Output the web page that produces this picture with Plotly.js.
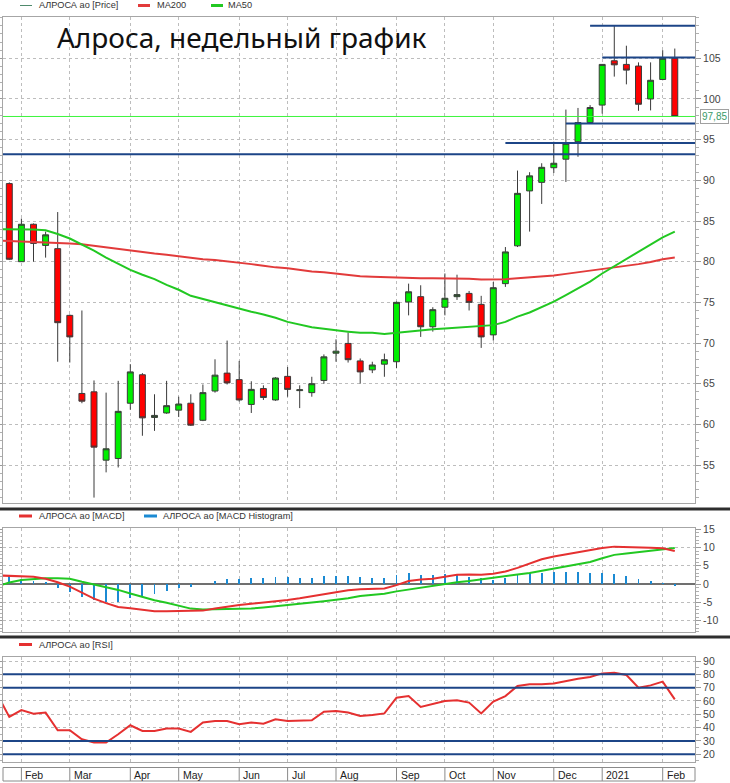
<!DOCTYPE html>
<html><head><meta charset="utf-8">
<script src="https://cdn.plot.ly/plotly-3.0.1.min.js"></script>
<style>html,body{margin:0;padding:0;background:#fff;}#chart{width:730px;height:783px;}</style>
</head><body><div id="chart"></div>
<script>
// Weekly bars (dated by week start, Sunday); first entry is the week before the first visible candle
const weeks = ['2020-01-19','2020-01-26','2020-02-02','2020-02-09','2020-02-16','2020-02-23','2020-03-01','2020-03-08','2020-03-15','2020-03-22','2020-03-29','2020-04-05','2020-04-12','2020-04-19','2020-04-26','2020-05-03','2020-05-10','2020-05-17','2020-05-24','2020-05-31','2020-06-07','2020-06-14','2020-06-21','2020-06-28','2020-07-05','2020-07-12','2020-07-19','2020-07-26','2020-08-02','2020-08-09','2020-08-16','2020-08-23','2020-08-30','2020-09-06','2020-09-13','2020-09-20','2020-09-27','2020-10-04','2020-10-11','2020-10-18','2020-10-25','2020-11-01','2020-11-08','2020-11-15','2020-11-22','2020-11-29','2020-12-06','2020-12-13','2020-12-20','2020-12-27','2021-01-03','2021-01-10','2021-01-17','2021-01-24','2021-01-31','2021-02-07','2021-02-14'];

// Candles (weeks[1] .. weeks[56])
const openP  = [89.6,80.0,84.6,82.0,81.6,73.4,63.8,64.0,55.6,55.8,62.6,66.1,60.85,61.4,61.75,62.6,60.5,64.1,66.3,65.5,62.45,64.4,63.0,65.9,64.15,63.9,65.4,68.75,69.95,67.8,66.7,67.4,67.7,75.05,75.7,72.0,74.4,75.7,76.1,74.75,71.0,77.3,81.95,88.7,89.75,91.55,92.6,94.75,97.1,99.25,104.7,104.25,104.05,100.0,102.4,105.0];
const highP  = [89.75,85.3,84.7,83.7,86.1,73.5,74.0,65.4,63.9,65.35,67.4,66.3,63.7,65.35,63.4,63.7,64.9,68.0,70.3,67.8,65.3,64.8,65.8,67.05,64.8,65.85,68.6,70.45,71.3,68.1,67.7,68.7,75.1,77.3,77.1,74.4,78.55,78.4,76.4,75.8,77.5,81.8,91.2,91.0,92.1,94.75,98.7,98.9,99.25,104.3,109.0,106.55,104.5,104.5,106.0,106.2];
const lowP   = [80.2,80.0,80.0,80.5,67.7,67.6,62.6,51.0,54.1,54.7,61.8,58.6,59.2,61.3,60.9,59.8,60.4,63.9,64.9,62.8,61.4,63.0,62.9,63.4,62.0,63.4,65.0,67.7,67.6,65.0,66.3,65.85,66.9,73.4,70.75,71.4,73.4,75.3,74.0,69.4,70.3,76.9,81.8,83.7,87.1,90.9,89.8,92.9,97.0,98.2,102.75,101.8,98.55,98.6,102.3,97.8];
const closeP = [80.3,84.6,82.25,83.3,72.5,70.75,62.85,57.2,57.0,61.6,66.45,60.8,61.1,62.3,62.5,59.9,63.9,66.05,65.1,63.0,64.3,63.3,65.7,64.3,64.25,65.0,68.3,69.0,67.95,66.45,67.3,67.95,75.0,76.3,72.0,74.1,75.5,75.95,75.0,70.75,76.8,81.2,88.4,90.55,91.6,92.1,94.55,97.1,98.95,104.25,104.2,103.55,99.35,102.3,105.0,97.85];

// Indicators (weeks[0] .. weeks[56])
const ma200 = [82.6,82.55,82.5,82.45,82.4,82.35,82.25,82.15,81.95,81.8,81.6,81.4,81.2,81.0,80.85,80.65,80.5,80.3,80.2,80.05,79.85,79.7,79.5,79.3,79.2,79.0,78.8,78.7,78.55,78.35,78.2,78.15,78.1,78.05,77.95,77.95,77.95,77.95,77.9,77.9,77.8,77.8,77.85,77.95,78.05,78.15,78.3,78.5,78.7,78.9,79.1,79.3,79.45,79.7,79.95,80.3,80.5];
const ma50 = [84.0,84.0,84.0,83.95,83.85,83.4,82.85,82.15,81.35,80.5,79.7,79.0,78.4,77.85,77.15,76.55,75.8,75.4,75.05,74.6,74.25,73.85,73.5,73.1,72.6,72.3,71.95,71.75,71.55,71.4,71.25,71.25,71.1,71.25,71.45,71.55,71.7,71.8,71.9,72.0,72.1,72.2,72.6,73.25,73.75,74.4,75.1,75.9,76.7,77.55,78.55,79.45,80.4,81.25,82.1,83.0,83.7];
const macd = [2.35,2.25,2.1,2.0,1.45,0.5,-0.7,-2.3,-4.0,-5.2,-6.25,-6.6,-7.0,-7.4,-7.4,-7.4,-7.4,-7.25,-6.7,-6.1,-5.7,-5.4,-5.1,-4.8,-4.35,-3.9,-3.4,-2.8,-2.2,-1.7,-1.45,-1.35,-1.2,-0.3,0.8,1.25,1.45,2.0,2.5,2.6,2.55,2.8,3.4,4.4,5.6,6.75,7.5,8.1,8.7,9.3,9.85,10.2,10.15,10.0,9.9,9.75,9.0];
const macdSignal = [-0.65,0.4,1.1,1.35,1.55,1.55,1.45,0.6,-0.1,-0.9,-1.6,-2.6,-3.55,-4.4,-5.1,-5.9,-6.7,-6.95,-6.9,-6.85,-6.8,-6.7,-6.4,-6.1,-5.75,-5.4,-5.05,-4.7,-4.3,-3.9,-3.25,-2.9,-2.65,-2.0,-1.5,-0.95,-0.35,0,0.5,0.8,1.3,1.8,2.2,2.6,3.0,3.6,4.2,4.75,5.4,6.0,7.05,7.95,8.3,8.7,9.2,9.55,9.8];
const macdHist = [2.4,2.3,1.5,0.8,0.45,-1.2,-2.1,-3.5,-4.4,-5.0,-4.85,-3.9,-3.5,-2.85,-1.9,-1.2,-0.7,-0.1,0.8,1.4,1.4,1.55,1.55,1.8,1.8,1.55,1.55,2.2,2.3,2.3,2.0,1.75,1.75,2.5,2.9,2.5,2.5,2.65,2.5,2.0,1.55,1.1,1.75,2.5,2.9,3.1,3.4,3.4,3.4,3.1,2.9,2.75,2.2,1.4,0.8,0.35,-0.45];
const rsi = [65,48.0,53.2,50.5,51.3,38.0,38.0,31.3,28.8,28.8,35.0,41.8,37.5,37.5,39.3,39.3,36.8,43.8,45.0,45.0,42.5,43.8,43.0,46.3,45.0,45.0,45.5,52.0,52.5,51.3,48.7,49.5,50.7,62.5,63.7,55.5,58.0,60.0,60.5,58.8,50.7,59.5,63.7,71.2,72.5,72.5,73.2,75.0,76.7,78.0,80.7,81.2,79.5,70.0,71.7,74.5,61.2];

// Drawn support/resistance levels (null start = full width)
const levelValues = [93.2, 94.6, 97.0, 105.1, 109.0];
const levelStarts = [null, '2020-11-08', '2020-12-13', '2021-01-03', '2020-12-27'];
const rsiLevels = [80, 70, 30, 20];
const monthAbbr = ['Jan','Feb','Mar','Apr','May','Jun','Jul','Aug','Sep','Oct','Nov','Dec'];

const titleText = 'Алроса, недельный график';
const legendPrice = ['АЛРОСА ао [Price]', 'MA200', 'MA50'];
const legendMacd = ['АЛРОСА ао [MACD]', 'АЛРОСА ао [MACD Histogram]'];
const legendRsi = ['АЛРОСА ао [RSI]'];

// ---------- build ----------
const W = 730, H = 783, ML = 3, MR = 35;
const PW = W - ML - MR;
const px2x = X => (X - ML) / PW;
const px2y = Y => 1 - Y / H;

const idx = weeks.map((d, i) => i);
const candleIdx = idx.slice(1);
const monthIdx = [];
const monthLbl = [];
for (let i = 1; i < weeks.length; i++) {
  const m0 = +weeks[i - 1].slice(5, 7), m1 = +weeks[i].slice(5, 7);
  if (m0 !== m1) {
    monthIdx.push(i);
    monthLbl.push(m1 === 1 ? weeks[i].slice(0, 4) : monthAbbr[m1 - 1]);
  }
}
const xRange = [0.479, 57.67];

const GRID = '#bdbdbd', LINEC = '#a6a6a6', NAVY = '#1c4587';
const tickFont = {family: 'Liberation Sans, Arial, sans-serif', size: 10.5, color: '#444'};
const labFont = {family: 'Liberation Sans, Arial, sans-serif', size: 9.2, color: '#333'};

function xAx(anchor, extra) {
  return Object.assign({
    domain: [0, 1], range: xRange, anchor: anchor, type: 'linear',
    tickmode: 'array', tickvals: monthIdx, showticklabels: false, ticks: '',
    showgrid: true, gridcolor: GRID, griddash: '3px,3px', gridwidth: 1,
    showline: true, mirror: true, linecolor: LINEC, linewidth: 1, zeroline: false, fixedrange: true
  }, extra || {});
}
function range(a, b, s) { const r = []; for (let v = a; v <= b + 1e-9; v += s) r.push(+v.toFixed(4)); return r; }
function yAx(dom, rng, anchor, major, minor, extra) {
  return Object.assign({
    domain: dom, range: rng, anchor: anchor, side: 'right',
    tickmode: 'array', tickvals: major, ticktext: major.map(v => String(v)),
    ticks: 'outside', ticklen: 5, tickcolor: '#9a9a9a', tickfont: tickFont,
    minor: {tickmode: 'array', tickvals: minor, ticks: 'outside', ticklen: 3, tickcolor: '#b0b0b0', showgrid: false},
    showgrid: true, gridcolor: GRID, griddash: '3px,3px', gridwidth: 1,
    showline: true, mirror: 'ticks', linecolor: LINEC, linewidth: 1, zeroline: false, fixedrange: true
  }, extra || {});
}

const traces = [
  {type: 'scatter', mode: 'lines', x: idx, y: ma200, xaxis: 'x', yaxis: 'y', line: {color: '#e23b3b', width: 2}, hoverinfo: 'skip'},
  {type: 'scatter', mode: 'lines', x: idx, y: ma50, xaxis: 'x', yaxis: 'y', line: {color: '#22c822', width: 2}, hoverinfo: 'skip'},
  {type: 'candlestick', x: candleIdx, open: openP, high: highP, low: lowP, close: closeP, xaxis: 'x', yaxis: 'y',
   whiskerwidth: 0,
   increasing: {line: {color: '#3a3a3a', width: 1}, fillcolor: '#00f000'},
   decreasing: {line: {color: '#3a3a3a', width: 1}, fillcolor: '#ff0000'}, hoverinfo: 'skip'},
  {type: 'bar', x: idx, y: macdHist, xaxis: 'x2', yaxis: 'y2', width: 0.16, marker: {color: '#1b8ad3', line: {width: 0}}, hoverinfo: 'skip'},
  {type: 'scatter', mode: 'lines', x: idx, y: macdSignal, xaxis: 'x2', yaxis: 'y2', line: {color: '#22c822', width: 2}, hoverinfo: 'skip'},
  {type: 'scatter', mode: 'lines', x: idx, y: macd, xaxis: 'x2', yaxis: 'y2', line: {color: '#e53030', width: 2}, hoverinfo: 'skip'},
  {type: 'scatter', mode: 'lines', x: idx, y: rsi, xaxis: 'x3', yaxis: 'y3', line: {color: '#e53030', width: 2}, hoverinfo: 'skip'}
];

const shapes = [];
const lastClose = closeP[closeP.length - 1];
shapes.push({type: 'line', xref: 'x', yref: 'y', x0: xRange[0], x1: xRange[1], y0: lastClose, y1: lastClose, line: {color: '#3cf53c', width: 1}});
levelValues.forEach((v, i) => {
  const s = levelStarts[i] ? weeks.indexOf(levelStarts[i]) : xRange[0];
  shapes.push({type: 'line', xref: 'x', yref: 'y', x0: s, x1: xRange[1], y0: v, y1: v, line: {color: NAVY, width: 2}});
});
rsiLevels.forEach(v => {
  shapes.push({type: 'line', xref: 'x3', yref: 'y3', x0: xRange[0], x1: xRange[1], y0: v, y1: v, line: {color: NAVY, width: 2}});
});
// panel separators
[509, 637].forEach(Y => {
  shapes.push({type: 'line', xref: 'paper', yref: 'paper', x0: px2x(0), x1: px2x(730), y0: px2y(Y), y1: px2y(Y), line: {color: '#2e2e2e', width: 3}});
});
// date label strip
shapes.push({type: 'rect', xref: 'paper', yref: 'paper', x0: 0, x1: 1, y0: px2y(781), y1: px2y(767.5), line: {color: '#8a8a8a', width: 1}, fillcolor: 'rgba(0,0,0,0)'});
monthIdx.forEach(m => {
  shapes.push({type: 'line', xref: 'x3', yref: 'paper', x0: m, x1: m, y0: px2y(781), y1: px2y(767.5), line: {color: '#8a8a8a', width: 1}});
});
// legend icons
function icon(x0, x1, Y, color, w) {
  shapes.push({type: 'line', xref: 'paper', yref: 'paper', x0: px2x(x0), x1: px2x(x1), y0: px2y(Y), y1: px2y(Y), line: {color: color, width: w}});
}
icon(20, 32, 5.5, '#4f8a6c', 1);
icon(138, 150, 5.5, '#e23b3b', 3);
icon(211, 223, 5.5, '#22c822', 3);
icon(19, 32, 516, '#e53030', 3);
icon(144, 157, 516, '#1b8ad3', 3);
icon(19, 32, 644.5, '#e53030', 3);

const ann = [];
function txt(X, Y, t, font, extra) {
  ann.push(Object.assign({xref: 'paper', yref: 'paper', x: px2x(X), y: px2y(Y), xanchor: 'left', yanchor: 'middle', text: t, showarrow: false, font: font}, extra || {}));
}
txt(55, 37, titleText, {family: 'Noto Sans, Open Sans, sans-serif', size: 28, color: '#111'});
txt(37, 5.5, legendPrice[0], labFont);
txt(155, 5.5, legendPrice[1], labFont);
txt(226, 5.5, legendPrice[2], labFont);
txt(37, 516, legendMacd[0], labFont);
txt(161, 516, legendMacd[1], labFont);
txt(37, 644.5, legendRsi[0], labFont);
monthIdx.forEach((m, i) => {
  ann.push({xref: 'x3', yref: 'paper', x: m, y: px2y(774.5), xanchor: 'left', yanchor: 'middle', xshift: 2, text: monthLbl[i], showarrow: false, font: {family: 'Liberation Sans, Arial, sans-serif', size: 10.5, color: '#222'}});
});
ann.push({xref: 'paper', yref: 'y', x: px2x(714), y: lastClose, xanchor: 'center', yanchor: 'middle', text: lastClose.toFixed(2).replace('.', ','), showarrow: false,
  font: {family: 'Liberation Sans, Arial, sans-serif', size: 10, color: '#3a9a68'}, bordercolor: '#a0a0a0', borderwidth: 1, borderpad: 1, bgcolor: '#ffffff'});

const layout = {
  width: W, height: H, margin: {l: ML, r: MR, t: 0, b: 0, pad: 0},
  paper_bgcolor: '#ffffff', plot_bgcolor: '#ffffff', showlegend: false, bargap: 0,
  xaxis: xAx('y', {rangeslider: {visible: false}}),
  xaxis2: xAx('y2', {matches: 'x'}),
  xaxis3: xAx('y3', {matches: 'x'}),
  yaxis: yAx([px2y(502.7), px2y(17)], [50.37, 110.08], 'x', range(55, 105, 5), range(51, 110, 1)),
  yaxis2: yAx([px2y(631.7), px2y(528.3)], [-13.0, 15.2], 'x2', range(-10, 15, 5), range(-13, 15, 1),
    {zeroline: true, zerolinecolor: '#707070', zerolinewidth: 2}),
  yaxis3: yAx([px2y(761.7), px2y(657)], [14.45, 93.0], 'x3', range(20, 90, 10), range(15, 90, 5)),
  shapes: shapes, annotations: ann
};

Plotly.newPlot('chart', traces, layout, {staticPlot: true, displayModeBar: false});
</script></body></html>
